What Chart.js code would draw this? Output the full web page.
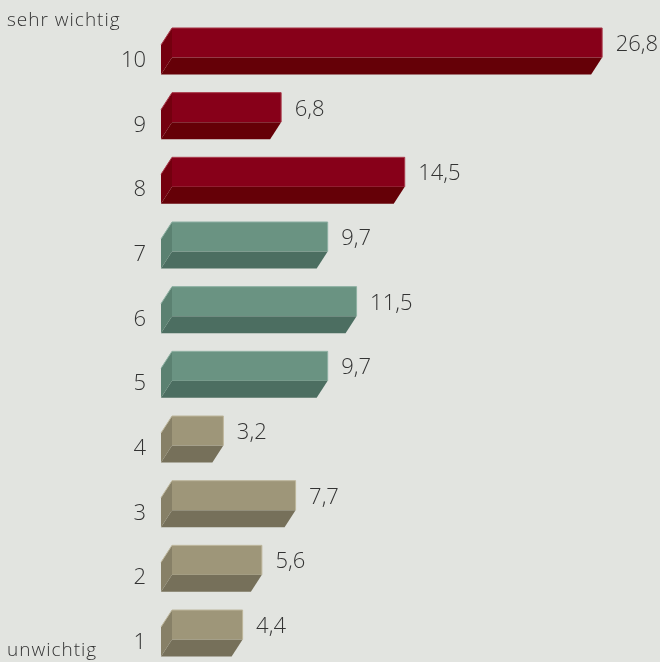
<!DOCTYPE html>
<html>
<head>
<meta charset="utf-8">
<script src="https://cdn.jsdelivr.net/npm/chart.js@4/dist/chart.umd.min.js"></script>
<style>
  html, body { margin: 0; padding: 0; background: #e2e4e0; }
  #wrap { position: relative; width: 660px; height: 662px; }
</style>
</head>
<body>
<div id="wrap"><canvas id="c" width="660" height="662"></canvas></div>
<script>
const categories = ['10', '9', '8', '7', '6', '5', '4', '3', '2', '1'];
const values = [26.8, 6.8, 14.5, 9.7, 11.5, 9.7, 3.2, 7.7, 5.6, 4.4];
const topLabel = 'sehr wichtig';
const bottomLabel = 'unwichtig';

const FONT = '"Open Sans", Lato, "DejaVu Sans", sans-serif';
const palettes = {
  red:   { front: '#870019', bottom: '#650007', side: '#74000f', edge: '#a8384a' },
  green: { front: '#6a9382', bottom: '#4c6e61', side: '#5b8171', edge: '#8db0a2' },
  tan:   { front: '#9e9679', bottom: '#76705a', side: '#878067', edge: '#bdb69c' }
};
function paletteFor(i) { return i < 3 ? palettes.red : (i < 6 ? palettes.green : palettes.tan); }

const DX = -11, DY = 17;

const box3d = {
  id: 'box3d',
  afterDatasetsDraw(chart) {
    const ctx = chart.ctx;
    const meta = chart.getDatasetMeta(0);
    ctx.save();
    meta.data.forEach((el, i) => {
      const p = el.getProps(['x', 'y', 'base', 'height'], true);
      const x0 = p.base, x1 = p.x;
      const t = p.y - p.height / 2, b = p.y + p.height / 2;
      const pal = paletteFor(i);
      ctx.fillStyle = pal.bottom;
      ctx.beginPath();
      ctx.moveTo(x0, b); ctx.lineTo(x1, b); ctx.lineTo(x1 + DX, b + DY); ctx.lineTo(x0 + DX, b + DY);
      ctx.closePath(); ctx.fill();
      ctx.fillStyle = pal.side;
      ctx.beginPath();
      ctx.moveTo(x0, t); ctx.lineTo(x0, b); ctx.lineTo(x0 + DX, b + DY); ctx.lineTo(x0 + DX, t + DY);
      ctx.closePath(); ctx.fill();
      ctx.fillStyle = pal.front;
      ctx.fillRect(x0, t, x1 - x0, b - t);
      ctx.strokeStyle = pal.edge;
      ctx.lineWidth = 1;
      ctx.beginPath();
      ctx.moveTo(x0 + DX, t + DY); ctx.lineTo(x0, t); ctx.lineTo(x1, t); ctx.lineTo(x1, b);
      ctx.stroke();
      ctx.fillStyle = '#333333';
      ctx.font = '300 22px ' + FONT;
      ctx.textAlign = 'left';
      ctx.textBaseline = 'middle';
      ctx.fillText(values[i].toFixed(1).replace('.', ','), x1 + 13.5, p.y + 2);
      ctx.textAlign = 'right';
      ctx.fillText(categories[i], 146, p.y + 18);
    });
    ctx.font = '300 19px ' + FONT;
    ctx.letterSpacing = '1px';
    ctx.textAlign = 'left';
    ctx.textBaseline = 'alphabetic';
    ctx.fillText(topLabel, 7, 26);
    ctx.fillText(bottomLabel, 7, 656);
    ctx.restore();
  }
};

new Chart(document.getElementById('c'), {
  type: 'bar',
  data: {
    labels: categories,
    datasets: [{
      data: values,
      backgroundColor: 'rgba(0,0,0,0)',
      borderWidth: 0,
      barThickness: 29.5
    }]
  },
  options: {
    indexAxis: 'y',
    responsive: false,
    animation: false,
    events: [],
    layout: { padding: { left: 172, right: 6.5, top: 10.4, bottom: 4.9 } },
    plugins: { legend: { display: false }, tooltip: { enabled: false } },
    scales: {
      x: { min: 0, max: 30, display: false },
      y: { display: false, offset: true }
    }
  },
  plugins: [box3d]
});
</script>
</body>
</html>
